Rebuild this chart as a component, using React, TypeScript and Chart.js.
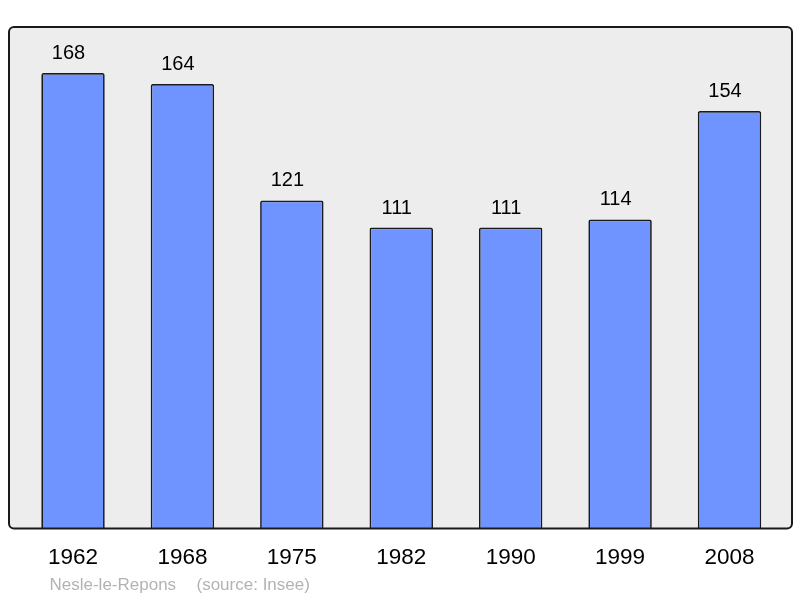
import React, { useEffect, useRef } from "react";
import { Chart, registerables } from "chart.js";

Chart.register(...registerables);

const categories = ["1962", "1968", "1975", "1982", "1990", "1999", "2008"];
const populations = [168, 164, 121, 111, 111, 114, 154];
const footerPlace = "Nesle-le-Repons";
const footerSource = "(source: Insee)";

const FONT = "'Liberation Sans', Arial, sans-serif";

const framePlugin = {
  id: "frame",
  beforeDraw(chart: any) {
    const { ctx, chartArea } = chart;
    const x0 = 9, x1 = 792, y0 = chartArea.top, y1 = chartArea.bottom;
    ctx.save();
    ctx.fillStyle = "#ededed";
    ctx.beginPath();
    ctx.roundRect(x0, y0, x1 - x0, y1 - y0, 5);
    ctx.fill();
    ctx.restore();
  },
  afterDraw(chart: any) {
    const { ctx, chartArea } = chart;
    const x0 = 9, x1 = 792, y0 = chartArea.top, y1 = chartArea.bottom;
    ctx.save();
    ctx.strokeStyle = "#1a1a1a";
    ctx.lineWidth = 2;
    ctx.beginPath();
    ctx.roundRect(x0, y0, x1 - x0, y1 - y0, 5);
    ctx.stroke();
    // footer
    ctx.fillStyle = "#b3b3b3";
    ctx.font = `17px ${FONT}`;
    ctx.textBaseline = "alphabetic";
    ctx.textAlign = "left";
    ctx.fillText(footerPlace, 49.5, 590);
    ctx.fillText(footerSource, 196.5, 590);
    ctx.restore();
  },
  afterDatasetsDraw(chart: any) {
    const { ctx } = chart;
    const meta = chart.getDatasetMeta(0);
    ctx.save();
    ctx.fillStyle = "#000";
    ctx.font = `20px ${FONT}`;
    ctx.textAlign = "center";
    ctx.textBaseline = "alphabetic";
    meta.data.forEach((bar: any, i: number) => {
      ctx.fillText(String(populations[i]), bar.x - 4.5, bar.y - 14);
    });
    ctx.restore();
  },
};

export default function App() {
  const ref = useRef<HTMLCanvasElement>(null);
  useEffect(() => {
    document.body.style.margin = "0";
    const chart = new Chart(ref.current!, {
      type: "bar",
      data: {
        labels: categories,
        datasets: [
          {
            data: populations,
            backgroundColor: "#7094ff",
            borderColor: "#1a1a1a",
            borderWidth: 1.7,
            borderRadius: 2,
            borderSkipped: "bottom",
            categoryPercentage: 1,
            barPercentage: 0.58,
          },
        ],
      },
      options: {
        animation: false,
        responsive: false,
        maintainAspectRatio: false,
        layout: { padding: { left: 18.3, right: 15.8, top: 27, bottom: 29.5 } },
        plugins: { legend: { display: false }, tooltip: { enabled: false } },
        scales: {
          x: {
            grid: { display: false, drawTicks: false },
            border: { display: false },
            ticks: {
              color: "#000",
              font: { family: FONT, size: 22.5 },
              padding: 16,
            },
            afterFit: (scale: any) => {
              scale.height = 40;
            },
          },
          y: {
            display: false,
            min: 0,
            max: 185,
          },
        },
      },
      plugins: [framePlugin],
    });
    return () => chart.destroy();
  }, []);
  return (
    <div style={{ width: 800, height: 598 }}>
      <canvas ref={ref} width={800} height={598} />
    </div>
  );
}
